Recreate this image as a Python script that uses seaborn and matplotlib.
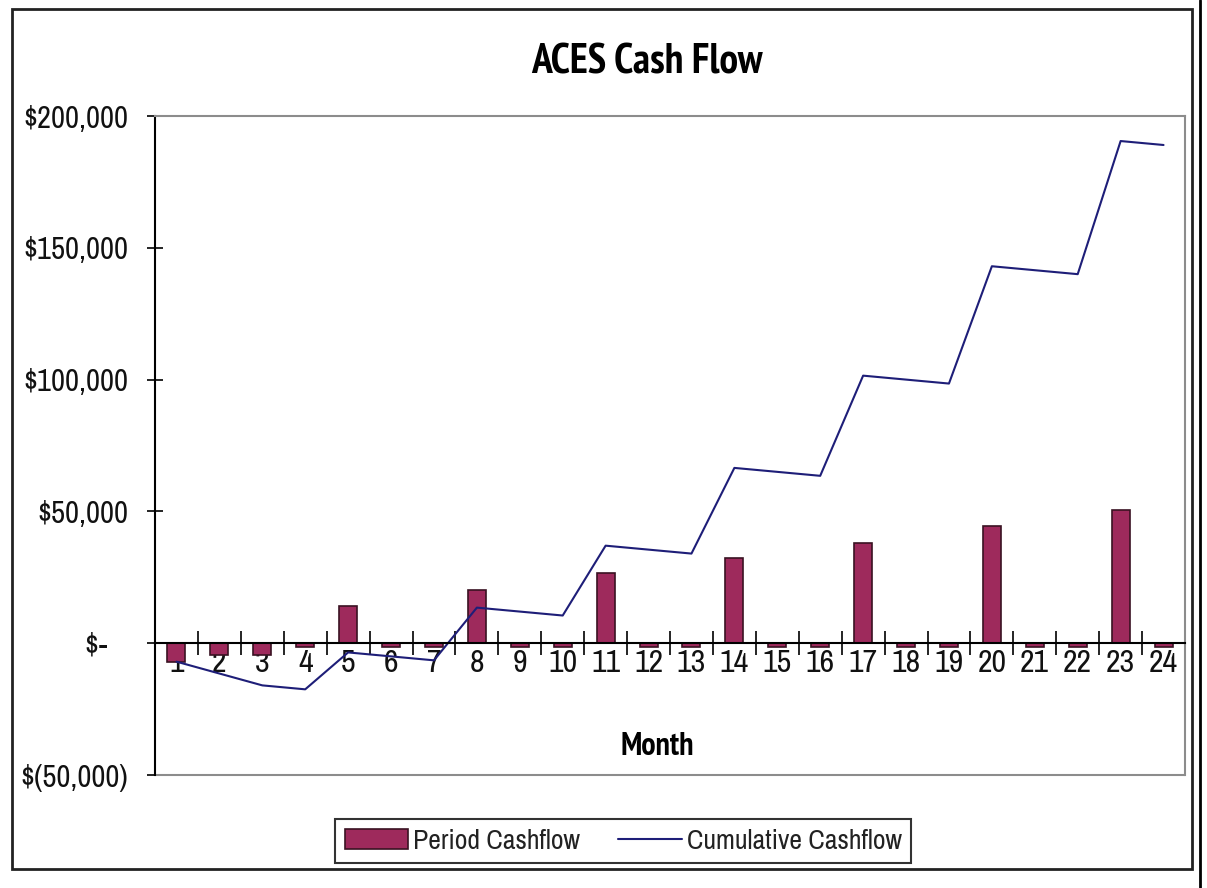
import numpy as np
import pandas as pd
import matplotlib
matplotlib.use("Agg")
import matplotlib.pyplot as plt
import seaborn as sns
from matplotlib import font_manager as fm
from matplotlib.patches import Patch, Rectangle
from matplotlib.lines import Line2D
from matplotlib.ticker import FuncFormatter

months = [str(i) for i in range(1, 25)]
period_cashflow = [-7000, -4500, -4500, -1500, 14000, -1500, -1500, 20000,
                   -1500, -1500, 26500, -1500, -1500, 32500, -1500, -1500,
                   38000, -1500, -1500, 44500, -1500, -1500, 50500, -1500]
cumulative_cashflow = [-7000, -11500, -16000, -17500, -3500, -5000, -6500, 13500,
                       12000, 10500, 37000, 35500, 34000, 66500, 65000, 63500,
                       101500, 100000, 98500, 143000, 141500, 140000, 190500, 189000]
y_ticks = [-50000, 0, 50000, 100000, 150000, 200000]

title = "ACES Cash Flow"
xlabel = "Month"
series_names = ["Period Cashflow", "Cumulative Cashflow"]

sns.set_theme(style="white")

entries = fm.fontManager.ttflist
available = {f.name for f in entries}
bold_available = {f.name for f in entries
                  if (isinstance(f.weight, int) and f.weight >= 700)
                  or (isinstance(f.weight, str) and "bold" in f.weight.lower())}
narrow_candidates = ["Liberation Sans Narrow", "Arial Narrow", "Archivo Narrow",
                     "PT Sans Narrow", "Roboto Condensed", "Open Sans Condensed",
                     "Encode Sans Condensed", "Barlow Condensed", "Fira Sans Condensed",
                     "IBM Plex Sans Condensed", "Asap Condensed", "Sofia Sans Condensed"]
chosen = next((n for n in narrow_candidates if n in available), None)
chosen_bold = next((n for n in narrow_candidates if n in bold_available), None)
if chosen is not None:
    FONT = [chosen, "Liberation Sans", "DejaVu Sans"]
    scale = 1.0
else:
    FONT = ["Liberation Sans", "DejaVu Sans"]
    scale = 0.82
if chosen_bold is not None:
    BOLD_FONT = [chosen_bold, "Liberation Sans", "DejaVu Sans"]
    bscale = 1.0
else:
    BOLD_FONT = ["Liberation Sans", "DejaVu Sans"]
    bscale = 0.8
plt.rcParams["font.family"] = FONT

TICK_FS = 22 * scale
LEG_FS = 20 * scale
TITLE_FS = 30 * bscale
LABEL_FS = 23 * bscale

bar_color = "#9E2A5C"
bar_edge = "#3A1222"
line_color = "#1E1E78"

W, H = 1207, 888
fig = plt.figure(figsize=(W / 100, H / 100), dpi=100)
fig.patch.set_facecolor("white")
ax = fig.add_axes([155 / W, 1 - 775 / H, (1185 - 155) / W, (775 - 116) / H])

df = pd.DataFrame({"Month": months, "Period": period_cashflow})
sns.barplot(data=df, x="Month", y="Period", color=bar_color, width=0.42,
            edgecolor=bar_edge, linewidth=1.2, saturation=1, ax=ax)
for p in ax.patches:
    p.set_facecolor(bar_color)

sns.lineplot(x=np.arange(len(months)), y=cumulative_cashflow, color=line_color,
             linewidth=1.5, sort=False, ax=ax)

ax.set_xlim(-0.5, len(months) - 0.5)
ax.set_ylim(-50000, 200000)
ax.set_yticks(y_ticks)


def fmt(v, pos):
    if v == 0:
        return "$-   "
    if v < 0:
        return "$({:,.0f})".format(-v)
    return "${:,.0f}".format(v)


ax.yaxis.set_major_formatter(FuncFormatter(fmt))
ax.tick_params(axis="y", direction="inout", length=11, width=1.2, color="black",
               labelsize=TICK_FS, pad=14, left=True, labelcolor="#111111")

# x axis at zero
ax.spines["bottom"].set_position(("data", 0))
ax.spines["bottom"].set_color("black")
ax.spines["bottom"].set_linewidth(1.5)
ax.spines["left"].set_color("black")
ax.spines["left"].set_linewidth(1.5)
for s in ["top", "right"]:
    ax.spines[s].set_color("#8C8C8C")
    ax.spines[s].set_linewidth(1.5)
ax.plot([0, 1], [0, 0], transform=ax.transAxes, color="#8C8C8C", lw=1.5,
        clip_on=False, zorder=1)

ax.set_xticks(np.arange(len(months)))
ax.set_xticklabels(months)
ax.set_xticks(np.arange(0.5, len(months) - 1, 1.0), minor=True)
ax.tick_params(axis="x", which="major", length=0, labelsize=TICK_FS + 1, pad=4,
               bottom=True, labelcolor="#111111")
ax.tick_params(axis="x", which="minor", direction="inout", length=17, width=1.2,
               color="black", bottom=True)
ax.set_xlabel("")
ax.set_ylabel("")
ax.grid(False)

fig.text(657 / W, 1 - 747 / H, xlabel, ha="center", va="center",
         fontsize=LABEL_FS, fontweight="bold", color="black", family=BOLD_FONT)
fig.text(647 / W, 1 - 63 / H, title, ha="center", va="center",
         fontsize=TITLE_FS, fontweight="bold", color="black", family=BOLD_FONT)

handles = [Patch(facecolor=bar_color, edgecolor=bar_edge, linewidth=1.2),
           Line2D([0], [0], color=line_color, lw=1.5)]
leg = fig.legend(handles, series_names, loc="center", ncol=2,
                 bbox_to_anchor=(623 / W, 1 - 841 / H), fontsize=LEG_FS,
                 frameon=True, fancybox=False, shadow=False,
                 handlelength=2.3, handleheight=0.75, handletextpad=0.15,
                 columnspacing=1.4, borderpad=0.35, borderaxespad=0)
leg.get_frame().set_edgecolor("black")
leg.get_frame().set_linewidth(1.5)
for t in leg.get_texts():
    t.set_color("#222222")

# chart area border
fig.add_artist(Rectangle((12 / W, 1 - 869 / H), 1180 / W, 860 / H,
                         transform=fig.transFigure, fill=False,
                         edgecolor="#222222", linewidth=2))
fig.add_artist(Line2D([1200 / W, 1200 / W], [0, 1], transform=fig.transFigure,
                      color="black", linewidth=2))

fig.savefig("out.png", dpi=100)
